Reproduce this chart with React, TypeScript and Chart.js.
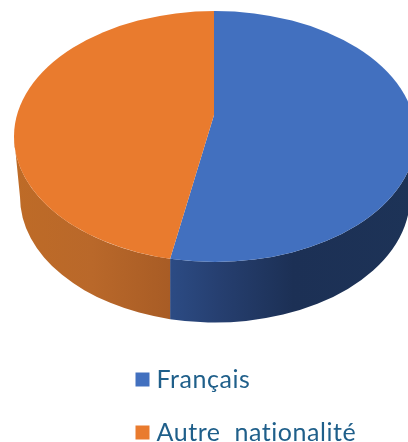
import React, { useEffect, useRef } from "react";
import { Chart, registerables } from "chart.js";

Chart.register(...registerables);

const labels = ["Français", "Autre  nationalité"];
const shares = [53, 47];
const topColors = ["#4270BF", "#E97B2E"];
const sideStops: [number, string][][] = [
  [[0, "#2C4B84"], [0.2, "#263F70"], [0.5, "#1C3055"], [1, "#1D3357"]],
  [[0, "#BE6B27"], [0.5, "#B9682A"], [1, "#A85C25"]],
];

// Projected disc: top face ellipse, bottom rim ellipse, and the slices' vanishing hub.
const TOP = { x: 215, y: 136.5, rx: 201, ry: 125.5 };
const RIM = { x: 215, y: 197, rx: 195, ry: 125.5 };
const HUB = { x: 214, y: 115 };
const SCALE = { x: 240, y: 150 };
const LEGEND_POS = { left: 141, top: 367 };
const LEGEND_PAD = 28;

function hitTop(angle: number) {
  // where a slice edge leaving the hub meets the top ellipse
  const dx = SCALE.x * Math.cos(angle);
  const dy = SCALE.y * Math.sin(angle);
  const ox = (HUB.x - TOP.x) / TOP.rx;
  const oy = (HUB.y - TOP.y) / TOP.ry;
  const ux = dx / TOP.rx;
  const uy = dy / TOP.ry;
  const a = ux * ux + uy * uy;
  const b = 2 * (ox * ux + oy * uy);
  const c = ox * ox + oy * oy - 1;
  const t = (-b + Math.sqrt(b * b - 4 * a * c)) / (2 * a);
  return { x: HUB.x + t * dx, y: HUB.y + t * dy };
}

const disc3d = {
  id: "disc3d",
  afterLayout(chart: any) {
    const lg = chart.legend;
    lg.left = LEGEND_POS.left - LEGEND_PAD;
    lg.right = lg.left + 300;
    lg.top = LEGEND_POS.top - LEGEND_PAD;
  },
  beforeDraw(chart: any) {
    chart.ctx.letterSpacing = "0.55px";
  },
  beforeDatasetsDraw(chart: any) {
    const ctx = chart.ctx;
    const arcs = chart.getDatasetMeta(0).data;
    const norm = (a: number) => ((a % (2 * Math.PI)) + 2 * Math.PI) % (2 * Math.PI);
    const seam = hitTop(arcs[0].endAngle);
    const seamTop = Math.atan2((seam.y - TOP.y) / TOP.ry, (seam.x - TOP.x) / TOP.rx);
    const seamRim = Math.acos((seam.x - RIM.x) / RIM.rx);
    const ranges = [
      { t0: 0, t1: norm(seamTop), r0: 0, r1: seamRim, x0: seam.x, x1: TOP.x + TOP.rx },
      { t0: norm(seamTop), t1: Math.PI, r0: seamRim, r1: Math.PI, x0: TOP.x - TOP.rx, x1: seam.x },
    ];
    ranges.forEach((r, i) => {
      const g = ctx.createLinearGradient(r.x0, 0, r.x1, 0);
      sideStops[i].forEach(([p, c]) => g.addColorStop(p, c));
      ctx.fillStyle = g;
      ctx.beginPath();
      ctx.ellipse(TOP.x, TOP.y, TOP.rx, TOP.ry, 0, r.t0, r.t1);
      ctx.ellipse(RIM.x, RIM.y, RIM.rx, RIM.ry, 0, r.r1, r.r0, true);
      ctx.closePath();
      ctx.fill();
    });
    const a = arcs[0];
    const R = a.outerRadius;
    ctx.save();
    ctx.beginPath();
    ctx.ellipse(TOP.x, TOP.y, TOP.rx, TOP.ry, 0, 0, 2 * Math.PI);
    ctx.clip();
    ctx.translate(HUB.x, HUB.y);
    ctx.scale(SCALE.x / R, SCALE.y / R);
    ctx.translate(-a.x, -a.y);
  },
  afterDatasetsDraw(chart: any) {
    chart.ctx.restore();
  },
};

export default function App() {
  const ref = useRef<HTMLCanvasElement>(null);
  useEffect(() => {
    const chart = new Chart(ref.current!, {
      type: "pie",
      data: {
        labels,
        datasets: [
          {
            data: shares,
            backgroundColor: topColors,
            borderWidth: 0,
            clip: false,
          } as any,
        ],
      },
      options: {
        responsive: false,
        animation: false,
        devicePixelRatio: 1,
        layout: { padding: 0 },
        plugins: {
          tooltip: { enabled: false },
          legend: {
            display: true,
            position: "bottom",
            align: "start",
            maxWidth: 260,
            labels: {
              boxWidth: 3,
              boxHeight: 3,
              padding: LEGEND_PAD,
              color: "#1F5F8A",
              font: { family: "Lato", size: 25 },
              generateLabels: () =>
                labels.map((text, i) => ({
                  text,
                  fillStyle: topColors[i],
                  strokeStyle: topColors[i],
                  lineWidth: 11,
                  index: i,
                  hidden: false,
                  fontColor: "#1F5F8A",
                })),
            },
          },
        },
      },
      plugins: [disc3d],
    } as any);
    return () => chart.destroy();
  }, []);
  return (
    <canvas
      ref={ref}
      width={408}
      height={442}
      style={{ position: "fixed", left: 0, top: 0, width: 408, height: 442, display: "block" }}
    />
  );
}
